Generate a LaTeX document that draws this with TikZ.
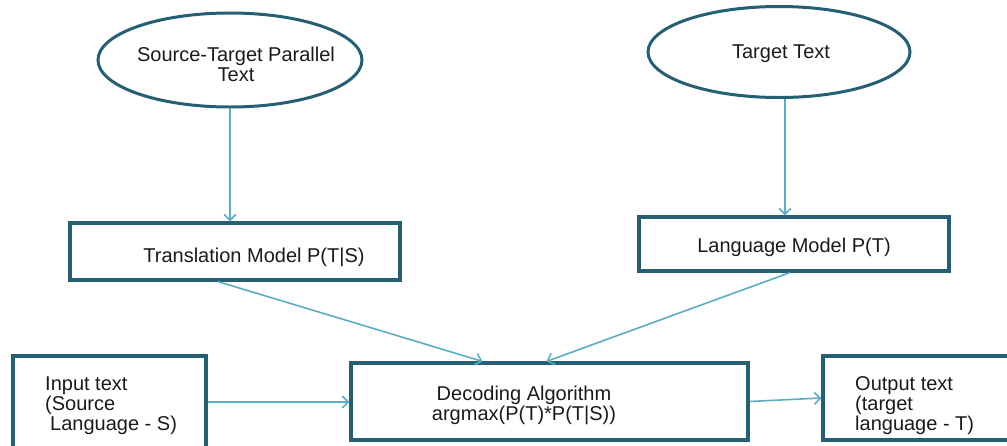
\documentclass[tikz,border=0pt]{standalone}
\usepackage{fontspec}
\setmainfont{Liberation Sans}
\usetikzlibrary{shapes.geometric,arrows.meta}
\definecolor{boxline}{HTML}{245F73}
\definecolor{arrline}{HTML}{5BADC6}
\definecolor{txt}{HTML}{1A1A1A}
\tikzset{
  box/.style={draw=boxline, line width=3.2pt, rectangle, inner sep=0pt},
  oval/.style={draw=boxline, line width=3pt, ellipse, inner sep=0pt},
  lbl/.style={text=txt, font=\fontsize{20}{20}\selectfont, inner sep=0pt},
  conn/.style={draw=arrline, line width=1.6pt, -{Straight Barb[length=6pt,width=12pt,line width=1.6pt]}}
}
\begin{document}
\begin{tikzpicture}[x=1pt,y=-1pt]
\useasboundingbox (0,0) rectangle (1007,445);
% shapes
\node[oval, minimum width=264pt, minimum height=94pt] (e1) at (230,60) {};
\node[oval, minimum width=262pt, minimum height=91pt] (e2) at (779,52) {};
\node[box, minimum width=330pt, minimum height=57pt] (trans) at (235,251.5) {};
\node[box, minimum width=310pt, minimum height=54pt] (lang) at (794,244) {};
\node[box, minimum width=193pt, minimum height=99pt] (in) at (109.5,405.5) {};
\node[box, minimum width=397pt, minimum height=77pt] (dec) at (549.5,401.5) {};
\node[box, minimum width=192pt, minimum height=84pt] (out) at (919,398) {};
% texts
\node[lbl, align=center] (t1) at (236,64) {Source-Target Parallel\\Text};
\node[lbl] (t2) at (781,54) {Target Text};
\node[lbl] (t3) at (254,257) {Translation Model P(T|S)};
\node[lbl] (t4) at (794,247) {Language Model P(T)};
\node[lbl, align=left, anchor=west] (t5) at (45,406) {Input text\\(Source\\\hspace{5pt}Language - S)};
\node[lbl, align=center] (t6) at (524,405) {Decoding Algorithm\\argmax(P(T)*P(T|S))};
\node[lbl, align=left, anchor=west] (t7) at (855,406) {Output text\\(target\\language - T)};
% connectors
\draw[conn] (e1.south) -- (e1.south |- trans.north);
\draw[conn] ([xshift=6pt]e2.south) -- ([xshift=6pt]e2.south |- lang.north);
\draw[conn] ([xshift=-17pt]trans.south) -- ([xshift=-67pt]dec.north);
\draw[conn] ([xshift=-4pt]lang.south) -- ([xshift=-3pt]dec.north);
\draw[conn] ([yshift=3.5pt]in.east) -- ([yshift=3.5pt]in.east -| dec.west);
\draw[conn] (dec.east) -- (out.west);
\end{tikzpicture}
\end{document}
